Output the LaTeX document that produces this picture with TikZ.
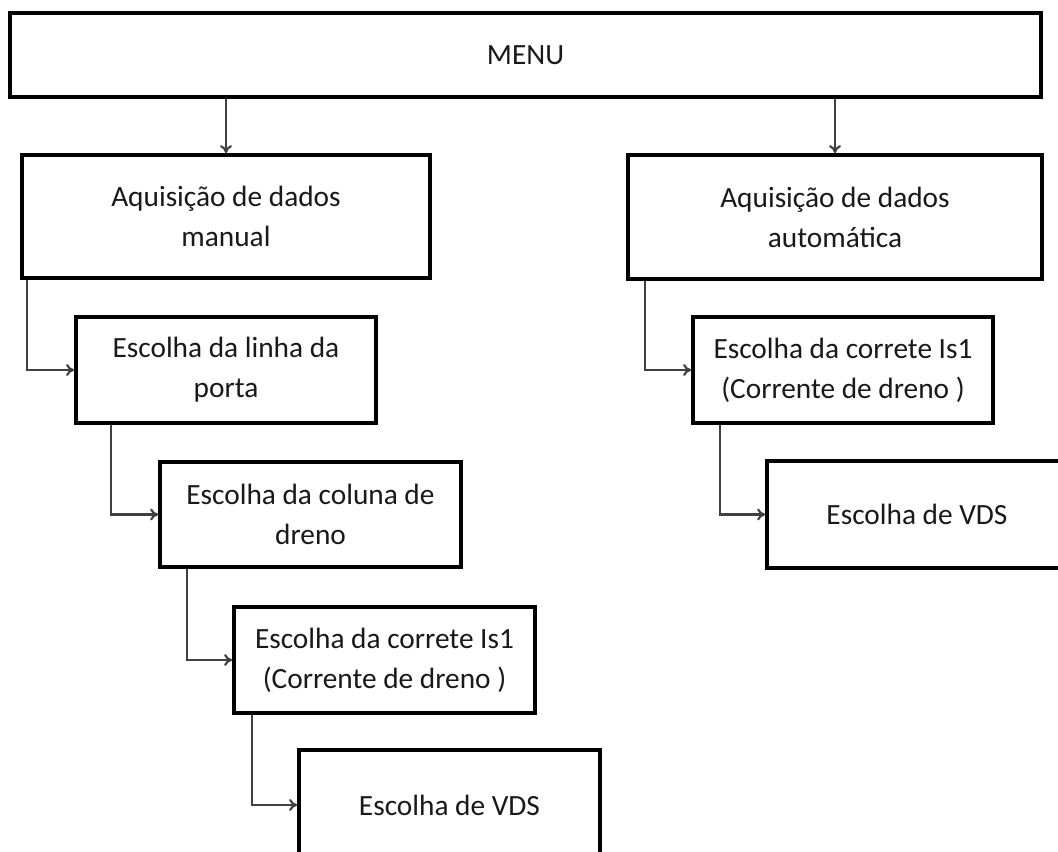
\documentclass[tikz,border=0pt]{standalone}
\usepackage{fontspec}
\setmainfont{Carlito}
\usetikzlibrary{arrows.meta,calc,shadows}
\tikzset{
  box/.style 2 args={draw=black, line width=2.8pt, fill=white, rectangle,
    minimum width={#1*0.75pt}, minimum height={#2*0.75pt}, inner sep=0pt,
    align=center, text=black!90,
    font=\fontsize{22}{30}\selectfont,
    drop shadow={shadow xshift=1pt, shadow yshift=-1pt, fill=black!45, opacity=1}},
  conn/.style={draw=black!75, line width=1.6pt, -{To[length=6pt,width=9pt]}}
}
\begin{document}
\begin{tikzpicture}[x=0.75pt,y=-0.75pt]
\clip (0,0) rectangle (1058,852);
\fill[white] (0,0) rectangle (1058,852);
\node[box={1031}{84}] (menu) at (525.5,55) {MENU};
\node[box={408}{123}] (man) at (226,216.5) {Aquisição de dados\\manual};
\node[box={414}{124}] (aut) at (835,217) {Aquisição de dados\\automática};
\node[box={300}{106}] (linha) at (226,370) {Escolha da linha da\\porta};
\node[box={301}{105}] (coluna) at (310.5,514.5) {Escolha da coluna de\\dreno};
\node[box={301}{106}] (corrL) at (384.5,660) {Escolha da correte Is1\\(Corrente de dreno )};
\node[box={301}{110}] (vdsL) at (449.5,805) {Escolha de VDS};
\node[box={300}{106}] (corrR) at (843,370) {Escolha da correte Is1\\(Corrente de dreno )};
\node[box={300}{107}] (vdsR) at (917,514.5) {Escolha de VDS};

\draw[conn] (man.north |- menu.south) -- (man.north);
\draw[conn] (aut.north |- menu.south) -- (aut.north);
\draw[conn] ($(man.south west)+(7,0)$) |- (linha.west);
\draw[conn] ($(linha.south west)+(37,0)$) |- (coluna.west);
\draw[conn] ($(coluna.south west)+(29,0)$) |- (corrL.west);
\draw[conn] ($(corrL.south west)+(20,0)$) |- (vdsL.west);
\draw[conn] ($(aut.south west)+(19,0)$) |- (corrR.west);
\draw[conn] ($(corrR.south west)+(29,0)$) |- (vdsR.west);
\end{tikzpicture}
\end{document}
